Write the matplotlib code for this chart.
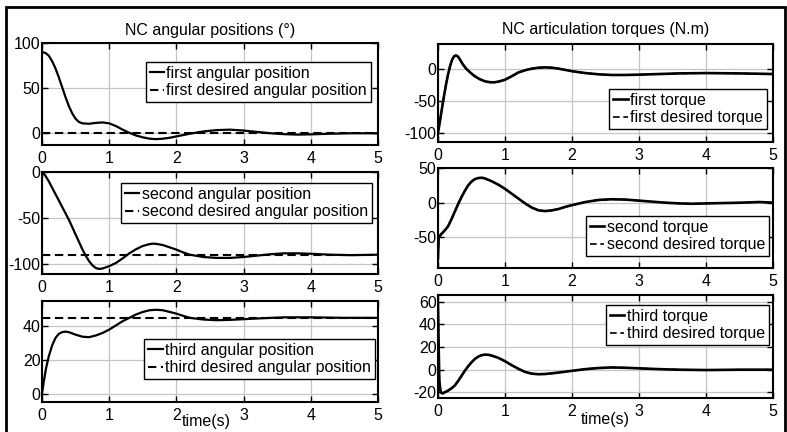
import matplotlib
matplotlib.use("Agg")
import matplotlib.pyplot as plt
from matplotlib.patches import Rectangle

plt.rcParams['font.family'] = ['Liberation Sans', 'DejaVu Sans']
plt.rcParams['font.size'] = 11.5
plt.rcParams['axes.unicode_minus'] = False

# ---- data ----
t_pos1 = [0, 0.05, 0.1, 0.15, 0.2, 0.25, 0.3, 0.35, 0.4, 0.45, 0.5, 0.55, 0.6, 0.7, 0.8, 0.9,
          1.0, 1.1, 1.2, 1.3, 1.4, 1.5, 1.6, 1.7, 1.8, 1.9, 2.0, 2.2, 2.4, 2.6, 2.8, 3.0,
          3.2, 3.4, 3.6, 3.8, 4.0, 4.3, 4.6, 5.0]
pos1 = [90, 89, 86, 80, 72, 62, 51, 40, 30, 22, 16, 12.5, 11, 10.5, 11.5, 12,
        11, 8, 4, 0.5, -2.5, -4.5, -6, -6.5, -6, -5, -3.5, -0.5, 2, 3.5, 4, 3,
        1.5, 0, -1, -1.5, -1.2, -0.5, 0, 0]
pos1_des = [0, 0]

t_pos2 = [0, 0.05, 0.1, 0.15, 0.2, 0.25, 0.3, 0.35, 0.4, 0.45, 0.5, 0.55, 0.6, 0.65, 0.7,
          0.75, 0.8, 0.85, 0.9, 1.0, 1.1, 1.2, 1.3, 1.4, 1.5, 1.6, 1.65, 1.7, 1.8, 1.9,
          2.0, 2.1, 2.2, 2.4, 2.6, 2.8, 3.0, 3.2, 3.4, 3.6, 3.8, 4.0, 4.3, 4.6, 5.0]
pos2 = [0, -4, -10, -17, -24, -31, -38, -45, -52, -60, -68, -76, -84, -91, -97,
        -101.5, -104.5, -105.5, -105, -102.5, -99, -94, -88.5, -84, -80.5, -78.5, -78, -78.2, -79.5, -82,
        -84.5, -87.5, -90, -92.5, -93.5, -93.5, -92.5, -91, -89.5, -88.5, -88.5, -89, -90, -90.5, -90]
pos2_des = [-90, -90]

t_pos3 = [0, 0.03, 0.06, 0.1, 0.15, 0.2, 0.25, 0.3, 0.35, 0.4, 0.5, 0.6, 0.7, 0.8, 0.9,
          1.0, 1.1, 1.2, 1.3, 1.4, 1.5, 1.6, 1.7, 1.8, 1.9, 2.0, 2.1, 2.2, 2.4, 2.6,
          2.8, 3.0, 3.3, 3.6, 4.0, 4.5, 5.0]
pos3 = [0, 8, 15, 22, 28.5, 33, 35.5, 36.5, 36.8, 36.5, 35, 33.8, 33.5, 34.5, 36,
        38, 40.5, 43, 45, 47, 48.5, 49.5, 49.8, 49.5, 48.5, 47.5, 46.2, 45, 44, 43.6,
        43.8, 44.2, 44.8, 45.3, 45.3, 45, 45]
pos3_des = [45, 45]

t_tq1 = [0, 0.02, 0.05, 0.08, 0.1, 0.12, 0.15, 0.18, 0.21, 0.24, 0.27, 0.3, 0.33, 0.37,
         0.42, 0.48, 0.55, 0.62, 0.7, 0.78, 0.85, 0.92, 1.0, 1.1, 1.2, 1.3, 1.4, 1.5,
         1.6, 1.7, 1.8, 1.9, 2.0, 2.2, 2.4, 2.6, 2.8, 3.0, 3.3, 3.6, 4.0, 4.5, 5.0]
tq1 = [-100, -88, -68, -48, -36, -24, -8, 5, 15, 20.5, 22, 20, 15, 8,
       1, -5, -11, -15.5, -19, -20.5, -20.5, -19, -16.5, -11, -5, -1.5, 1, 2.5,
       3, 2.5, 1, -1, -3, -6, -8, -9, -9, -8.5, -7.5, -6.5, -6, -6.5, -7.5]
tq1_des = tq1

t_tq2 = [0, 0.01, 0.05, 0.1, 0.15, 0.2, 0.25, 0.3, 0.35, 0.4, 0.45, 0.5, 0.55, 0.6, 0.65,
         0.7, 0.8, 0.9, 1.0, 1.1, 1.2, 1.3, 1.4, 1.5, 1.6, 1.7, 1.8, 1.9, 2.0, 2.2,
         2.4, 2.6, 2.8, 3.0, 3.2, 3.4, 3.6, 3.8, 4.0, 4.5, 4.8, 5.0]
tq2 = [-80, -50, -45, -40, -34, -24, -13, -2, 8, 17, 25, 30.5, 34, 35.5, 36,
       35, 31, 26, 20, 13, 6, -1, -7, -11, -12, -11, -9, -6, -3.5, 1,
       4, 5, 4.5, 3, 1.5, 0, -1, -1.5, -1, 0, 1, 0]
tq2_des = tq2

t_tq3 = [0, 0.01, 0.02, 0.04, 0.07, 0.1, 0.15, 0.2, 0.25, 0.3, 0.35, 0.4, 0.45, 0.5, 0.55,
         0.6, 0.65, 0.7, 0.75, 0.8, 0.9, 1.0, 1.1, 1.2, 1.3, 1.4, 1.5, 1.6, 1.7, 1.8,
         2.0, 2.2, 2.4, 2.6, 2.8, 3.0, 3.3, 3.6, 4.0, 4.5, 5.0]
tq3 = [58, 20, -10, -20, -21, -20, -18.5, -16.5, -14, -10, -5.5, -1, 3, 6.5, 9.5,
       11.5, 12.8, 13.3, 13.2, 12.5, 10.5, 7.5, 4, 0.8, -2, -3.5, -4, -3.8, -3.2, -2.5,
       -1, 0.5, 1.5, 2, 1.7, 1.2, 0.5, 0, -0.3, 0, 0]
tq3_des = tq3

fig = plt.figure(figsize=(7.87, 4.32), dpi=100)
W, H = 787.0, 432.0
FS = 11.5


def make_ax(left, right, top, bottom):
    ax = fig.add_axes([left / W, 1 - bottom / H, (right - left) / W, (bottom - top) / H])
    ax.set_xlim(0, 5)
    ax.set_xticks([0, 1, 2, 3, 4, 5])
    ax.grid(True, color='#c4c4c4', lw=0.9)
    ax.set_axisbelow(True)
    ax.tick_params(direction='in', top=True, right=True, length=4, width=1,
                   labelsize=FS)
    ax.tick_params(axis='x', pad=4)
    ax.tick_params(axis='y', pad=1)
    for s in ax.spines.values():
        s.set_linewidth(1.5)
    return ax


def add_legend(ax, labels, x, y):
    leg = ax.legend(labels, loc='upper right', bbox_to_anchor=(x, y), borderaxespad=0,
                    fontsize=FS, fancybox=False, framealpha=1, edgecolor='black',
                    borderpad=0.25, labelspacing=0.15, handlelength=0.9,
                    handletextpad=0.15)
    leg.get_frame().set_linewidth(1.0)


dash = (0, (4, 2.2))

# left column: angular positions
ax1 = make_ax(42, 378, 43, 145)
ax1.plot(t_pos1, pos1, color='black', lw=1.6)
ax1.plot([0, 5], pos1_des, color='black', lw=1.5, linestyle=dash)
ax1.set_ylim(-13, 100)
ax1.set_yticks([0, 50, 100])
ax1.set_title('NC angular positions (°)', fontsize=FS, pad=6)
add_legend(ax1, ['first angular position', 'first desired angular position'], 0.979, 0.814)

ax2 = make_ax(42, 378, 172, 274)
ax2.plot(t_pos2, pos2, color='black', lw=1.6)
ax2.plot([0, 5], pos2_des, color='black', lw=1.5, linestyle=dash)
ax2.set_ylim(-111, 0)
ax2.set_yticks([-100, -50, 0])
add_legend(ax2, ['second angular position', 'second desired angular position'], 0.982, 0.892)

ax3 = make_ax(42, 378, 301, 402)
ax3.plot(t_pos3, pos3, color='black', lw=1.6)
ax3.plot([0, 5], pos3_des, color='black', lw=1.5, linestyle=dash)
ax3.set_ylim(-5, 55)
ax3.set_yticks([0, 20, 40])
ax3.set_xlabel('time(s)', fontsize=FS)
ax3.xaxis.set_label_coords(0.49, -0.115)
add_legend(ax3, ['third angular position', 'third desired angular position'], 0.991, 0.624)

# right column: articulation torques
ax4 = make_ax(438, 773, 44, 142)
ax4.plot(t_tq1, tq1, color='black', lw=1.9)
ax4.plot(t_tq1, tq1_des, color='black', lw=1.2, linestyle=dash)
ax4.set_ylim(-115, 40)
ax4.set_yticks([-100, -50, 0])
ax4.set_title('NC articulation torques (N.m)', fontsize=FS, pad=7)
add_legend(ax4, ['first torque', 'first desired torque'], 0.982, 0.541)

ax5 = make_ax(438, 773, 168, 268)
ax5.plot(t_tq2, tq2, color='black', lw=1.9)
ax5.plot(t_tq2, tq2_des, color='black', lw=1.2, linestyle=dash)
ax5.set_ylim(-94, 50)
ax5.set_yticks([-50, 0, 50])
add_legend(ax5, ['second torque', 'second desired torque'], 0.988, 0.52)

ax6 = make_ax(438, 773, 295, 398)
ax6.plot(t_tq3, tq3, color='black', lw=1.9)
ax6.plot(t_tq3, tq3_des, color='black', lw=1.2, linestyle=dash)
ax6.set_ylim(-25, 66)
ax6.set_yticks([-20, 0, 20, 40, 60])
ax6.set_xlabel('time(s)', fontsize=FS)
ax6.xaxis.set_label_coords(0.5, -0.14)
add_legend(ax6, ['third torque', 'third desired torque'], 0.988, 0.903)

# outer frame (open at the bottom, as in the scan)
frame = Rectangle((6 / W, -0.05), (785 - 6) / W, 1.05 - 7 / H, transform=fig.transFigure,
                  fill=False, edgecolor='black', lw=2, clip_on=False)
fig.patches.append(frame)

fig.savefig('out.png', dpi=100)
